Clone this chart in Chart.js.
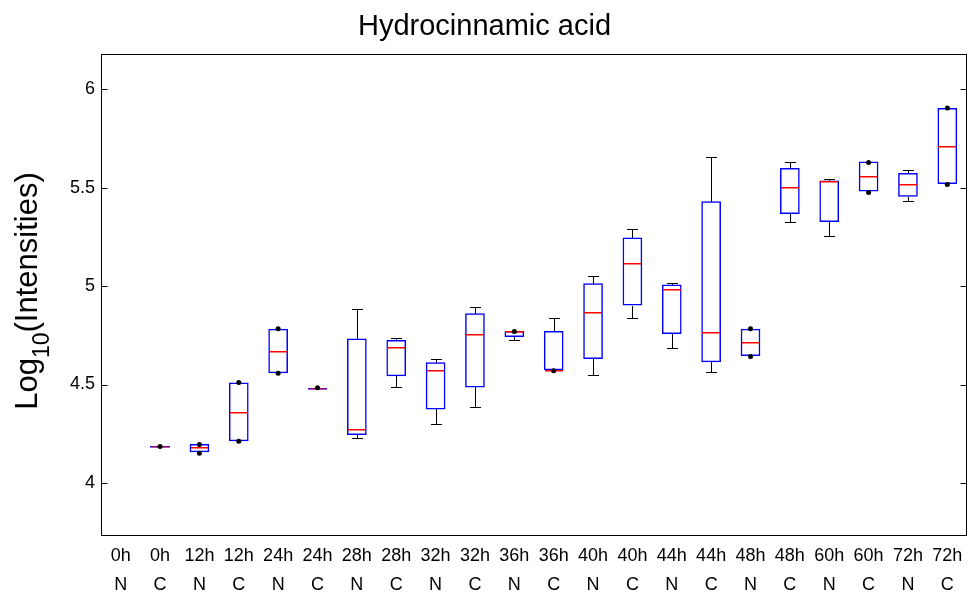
<!DOCTYPE html>
<html>
<head>
<meta charset="utf-8">
<script src="https://cdn.jsdelivr.net/npm/chart.js@4/dist/chart.umd.min.js"></script>
<style>
  html, body { margin: 0; padding: 0; background: #ffffff; }
  #wrap { width: 971px; height: 594px; position: relative; }
</style>
</head>
<body>
<div id="wrap"><canvas id="c" width="971" height="594"></canvas></div>
<script>
// ---- data ----
const times  = ["0h","0h","12h","12h","24h","24h","28h","28h","32h","32h","36h","36h","40h","40h","44h","44h","48h","48h","60h","60h","72h","72h"];
const groups = ["N","C","N","C","N","C","N","C","N","C","N","C","N","C","N","C","N","C","N","C","N","C"];
const whiskerLow  = [null,4.185,4.156,4.212,4.557,4.484,4.229,4.485,4.300,4.388,4.725,4.573,4.549,4.838,4.686,4.564,4.645,5.326,5.255,5.481,5.431,5.519];
const quartile1   = [null,4.185,4.156,4.212,4.557,4.484,4.244,4.542,4.373,4.485,4.742,4.573,4.630,4.901,4.757,4.613,4.645,5.367,5.326,5.481,5.455,5.519];
const medians     = [null,4.185,4.180,4.358,4.669,4.484,4.276,4.693,4.573,4.757,4.772,4.573,4.871,5.120,4.983,4.766,4.717,5.504,5.537,5.560,5.519,5.712];
const quartile3   = [null,4.185,4.197,4.510,4.783,4.484,4.734,4.726,4.613,4.862,4.772,4.772,5.015,5.247,5.008,5.431,4.783,5.601,5.537,5.633,5.575,5.905];
const whiskerHigh = [null,4.185,4.197,4.510,4.783,4.484,4.886,4.734,4.630,4.894,4.772,4.838,5.054,5.288,5.016,5.657,4.783,5.633,5.545,5.633,5.592,5.905];
// individual points shown as black dots (upper and lower), per category
const dotUpper = [null,4.185,4.195,4.510,4.783,4.484,null,null,null,null,4.770,null,null,null,null,null,4.783,null,null,5.628,null,5.905];
const dotLower = [null,null,4.151,4.212,4.557,null,null,null,null,null,null,4.570,null,null,null,null,4.643,null,null,5.476,null,5.517];
const yTicks = [4, 4.5, 5, 5.5, 6];
const yMin = 3.73, yMax = 6.18;
const titleText = "Hydrocinnamic acid";

const labels = times.map((t, i) => [t, groups[i]]);
const FONT = "'Liberation Sans', Arial, Helvetica, sans-serif";

const boxData = quartile1.map((q, i) => q == null ? null : [q, quartile3[i]]);

const boxPlugin = {
  id: 'boxParts',
  beforeDatasetsDraw(chart) {
    const ctx = chart.ctx, xs = chart.scales.x, ys = chart.scales.y;
    const meta = chart.getDatasetMeta(0);
    ctx.save();
    ctx.fillStyle = '#000000';
    for (let i = 0; i < labels.length; i++) {
      if (quartile1[i] == null) continue;
      const el = meta.data[i];
      const cx = Math.round(xs.getPixelForValue(i));
      const bw = el ? el.width : 20;
      const cap = Math.round(bw / 2);
      const segs = [[whiskerHigh[i], quartile3[i]], [whiskerLow[i], quartile1[i]]];
      segs.forEach(([w, q]) => {
        if (w == null || Math.abs(w - q) < 1e-9) return;
        const yw = Math.round(ys.getPixelForValue(w));
        const yq = Math.round(ys.getPixelForValue(q));
        ctx.fillRect(cx, Math.min(yw, yq), 1, Math.abs(yq - yw) + 1);
        ctx.fillRect(cx - Math.floor(cap / 2), yw, cap + 1, 1);
      });
    }
    ctx.restore();
  },
  afterDatasetDraw(chart, args) {
    if (args.index !== 0) return;
    const ctx = chart.ctx, xs = chart.scales.x, ys = chart.scales.y;
    const meta = chart.getDatasetMeta(0);
    ctx.save();
    for (let i = 0; i < labels.length; i++) {
      if (medians[i] == null) continue;
      const el = meta.data[i];
      const bw = el ? el.width : 20;
      const cx = xs.getPixelForValue(i);
      const x0 = Math.round(cx - bw / 2), x1 = Math.round(cx + bw / 2);
      const y = Math.round(ys.getPixelForValue(medians[i]));
      if (Math.abs(quartile1[i] - quartile3[i]) < 1e-9) {
        ctx.fillStyle = '#0000ff';
        ctx.fillRect(x0, y, x1 - x0, 1.5);
        ctx.fillStyle = 'rgba(255,0,0,0.6)';
      } else {
        ctx.fillStyle = '#ff0000';
      }
      ctx.fillRect(x0 + 1, y, x1 - x0 - 2, 1.5);
    }
    ctx.restore();
  },
  afterDraw(chart) {
    const ctx = chart.ctx, ys = chart.scales.y, a = chart.chartArea;
    ctx.save();
    // frame
    ctx.strokeStyle = '#000000';
    ctx.lineWidth = 1;
    const L = Math.round(a.left) + 0.5, R = Math.round(a.right) - 0.5;
    const T = Math.round(a.top) + 0.5, B = Math.round(a.bottom) - 0.5;
    ctx.strokeRect(L, T, R - L, B - T);
    // inward ticks on left and right
    ctx.beginPath();
    yTicks.forEach(v => {
      const y = Math.round(ys.getPixelForValue(v)) + 0.5;
      ctx.moveTo(L, y); ctx.lineTo(L + 6, y);
      ctx.moveTo(R, y); ctx.lineTo(R - 6, y);
    });
    ctx.stroke();
    // y-axis title with subscript
    const mainF = '31px ' + FONT, subF = '23px ' + FONT;
    ctx.fillStyle = '#000000';
    ctx.textBaseline = 'alphabetic';
    ctx.textAlign = 'left';
    ctx.font = mainF; const w1 = ctx.measureText('Log').width; const w3 = ctx.measureText('(Intensities)').width;
    ctx.font = subF;  const w2 = ctx.measureText('10').width;
    const total = w1 + w2 + w3;
    const midY = (a.top + a.bottom) / 2 - 4;
    ctx.translate(37, midY + total / 2);
    ctx.rotate(-Math.PI / 2);
    ctx.font = mainF; ctx.fillText('Log', 0, 0);
    ctx.font = subF;  ctx.fillText('10', w1, 12);
    ctx.font = mainF; ctx.fillText('(Intensities)', w1 + w2, 0);
    ctx.restore();
  }
};

const dotStyle = {
  type: 'line',
  showLine: false,
  spanGaps: false,
  pointRadius: 2.5,
  pointBackgroundColor: '#000000',
  pointBorderColor: '#000000',
  pointBorderWidth: 0,
  order: 1
};

new Chart(document.getElementById('c'), {
  data: {
    labels: labels,
    datasets: [
      {
        type: 'bar',
        data: boxData,
        backgroundColor: 'rgba(255,255,255,0)',
        borderColor: '#0000ff',
        borderWidth: 1.5,
        borderSkipped: false,
        barPercentage: 0.5,
        categoryPercentage: 1.0,
        order: 2
      },
      Object.assign({ data: dotUpper }, dotStyle),
      Object.assign({ data: dotLower }, dotStyle)
    ]
  },
  options: {
    responsive: false,
    animation: false,
    layout: { padding: { left: 0, right: 2, top: 0, bottom: 0 } },
    plugins: {
      legend: { display: false },
      tooltip: { enabled: false },
      title: {
        display: true,
        text: titleText,
        color: '#000000',
        font: { family: FONT, size: 29, weight: 'normal', lineHeight: 1.2 },
        padding: { top: 10, bottom: 9.2 }
      }
    },
    scales: {
      x: {
        type: 'category',
        offset: true,
        grid: { display: false, drawTicks: false, tickLength: 0 },
        border: { display: false },
        ticks: {
          color: '#000000',
          font: { family: FONT, size: 18, lineHeight: 1.633 },
          padding: 5,
          maxRotation: 0,
          autoSkip: false
        },
        afterFit(scale) { scale.height = 58; }
      },
      y: {
        type: 'linear',
        min: yMin,
        max: yMax,
        grid: { display: false, drawTicks: false, tickLength: 0 },
        border: { display: false },
        ticks: {
          color: '#000000',
          font: { family: FONT, size: 18 },
          padding: 6,
          callback: v => String(v)
        },
        afterBuildTicks(scale) { scale.ticks = yTicks.map(v => ({ value: v })); },
        afterFit(scale) { scale.width = 101; }
      }
    }
  },
  plugins: [boxPlugin]
});
</script>
</body>
</html>
